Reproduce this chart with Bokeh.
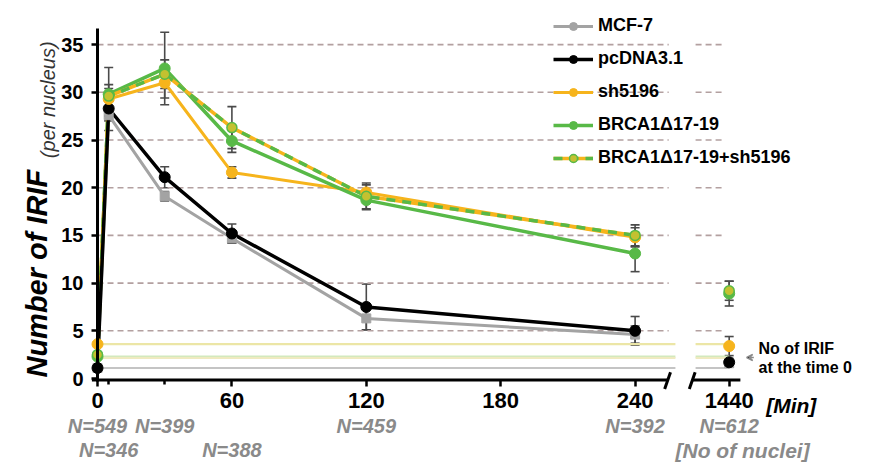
import math
from bokeh.plotting import figure
from bokeh.models import (ColumnDataSource, FixedTicker, Legend, LegendItem, Whisker,
                          TeeHead, Label, Arrow, VeeHead)
from bokeh.core.properties import value
from bokeh.embed import file_html
from bokeh.resources import INLINE

# ---------------- data ----------------
times = [0, 5, 30, 60, 120, 240, 1440]
n_nuclei = ["N=549", "N=346", "N=399", "N=388", "N=459", "N=392", "N=612"]
n_row = [1, 2, 1, 2, 1, 1, 1]

mcf7 = [1.1, 27.6, 19.1, 14.7, 6.3, 4.6, 1.6]
mcf7_err = [0, 0.6, 0.5, 0.5, 1.2, 0.9, 0]
pcdna = [1.1, 28.3, 21.1, 15.2, 7.5, 5.0, 1.7]
pcdna_err = [0, 0.8, 1.1, 1.0, 2.4, 1.5, 0.4]
sh5196 = [3.6, 29.3, 31.0, 21.6, 19.5, 14.8, 3.4]
sh5196_err = [0, 3.3, 1.6, 0.6, 0.8, 1.0, 1.0]
brca = [2.3, 29.8, 32.5, 24.9, 18.7, 13.1, 8.9]
brca_err = [0, 0.6, 3.8, 1.2, 0.9, 1.9, 1.3]
combo = [2.5, 29.6, 31.9, 26.3, 19.1, 15.0, 9.2]
combo_err = [0, 1.2, 1.5, 2.2, 1.4, 1.1, 1.0]

series_names = ["MCF-7", "pcDNA3.1", "sh5196", "BRCA1\u039417-19", "BRCA1\u039417-19+sh5196"]
y_ticks = [0, 5, 10, 15, 20, 25, 30, 35]
x_major = [0, 60, 120, 180, 240, 1440]
x_minor = [5, 30]

# ---------------- layout constants ----------------
BREAK_POS = 282          # where 1440 min is drawn on the broken axis
SEG1 = (0, 255)          # grid extent, first axis segment
SEG2 = (267, 279)        # grid extent, second axis segment
AXIS_Y = -0.15
FONT = "Liberation Sans"

GRAY = "#a3a3a3"
BLACK = "#000000"
ORANGE = "#f6b41c"
GREEN = "#58b947"
OLIVE = "#c4c130"
ERR = "#4a4a4a"
NGRAY = "#8a8a8a"


def xpos(t):
    return t if t <= 240 else BREAK_POS


W, H = 868, 465
PX_X, PX_Y = 2.24, 9.54      # pixels per minute / per IRIF
X0_PX, Y0_PX = 97, 378       # pixel position of the origin
p = figure(width=W, height=H,
           x_range=(-X0_PX / PX_X, (W - X0_PX) / PX_X),
           y_range=(-(H - Y0_PX) / PX_Y, Y0_PX / PX_Y),
           output_backend="svg", toolbar_location=None,
           min_border_left=0, min_border_right=0, min_border_top=0, min_border_bottom=0)
p.title.visible = False
p.outline_line_color = None
p.grid.visible = False
p.background_fill_color = "white"

# axes placed inside the frame
p.xaxis.fixed_location = AXIS_Y
p.xaxis.ticker = FixedTicker(ticks=[xpos(t) for t in x_major], minor_ticks=x_minor)
p.xaxis.major_label_overrides = {xpos(t): str(t) for t in x_major}
p.xaxis.axis_line_color = None
p.xaxis.major_tick_out = 7
p.xaxis.major_tick_in = 0
p.xaxis.minor_tick_out = 5
p.xaxis.minor_tick_in = 0
p.xaxis.major_tick_line_width = 2.5
p.xaxis.minor_tick_line_width = 2.5
p.xaxis.major_label_standoff = 6
p.xaxis.major_label_text_font = FONT
p.xaxis.major_label_text_font_size = "22px"
p.xaxis.major_label_text_font_style = "bold"
p.xaxis.major_label_text_color = "black"

p.yaxis.fixed_location = 0
p.yaxis.bounds = (-0.3, 36.7)
p.yaxis.ticker = FixedTicker(ticks=y_ticks, minor_ticks=[])
p.yaxis.axis_line_width = 3
p.yaxis.axis_line_color = "black"
p.yaxis.major_tick_in = 0
p.yaxis.major_tick_out = 6
p.yaxis.major_tick_line_width = 2.5
p.yaxis.major_label_standoff = 8
p.yaxis.major_label_text_font = FONT
p.yaxis.major_label_text_font_size = "20px"
p.yaxis.major_label_text_font_style = "bold"
p.yaxis.major_label_text_color = "black"

# dashed grid lines, broken like the axis
gx0, gx1, gy = [], [], []
for yv in y_ticks[1:]:
    for seg in (SEG1, SEG2):
        gx0.append(seg[0]); gx1.append(seg[1]); gy.append(yv)
p.segment(x0=gx0, x1=gx1, y0=gy, y1=gy, line_color="#b3a0a0", line_width=1.6, line_dash="6 4")

# faint reference lines = values at time 0
ref_vals = [sh5196[0], brca[0], combo[0] - 0.35, pcdna[0]]
ref_cols = ["#ece6a6", "#d3e9bd", "#efeac0", "#c4c4c4"]
rx0, rx1, ry, rc = [], [], [], []
for v, c in zip(ref_vals, ref_cols):
    for seg in (SEG1, SEG2):
        rx0.append(seg[0]); rx1.append(seg[1] + 3); ry.append(v); rc.append(c)
p.segment(x0=rx0, x1=rx1, y0=ry, y1=ry, line_color=rc, line_width=2.2)

# broken x axis line with break marks
p.segment(x0=[-2.5, 265.5], x1=[254.5, 287], y0=[AXIS_Y, AXIS_Y], y1=[AXIS_Y, AXIS_Y],
          line_color="black", line_width=3)
p.segment(x0=[253.2, 264.2], x1=[255.8, 266.8], y0=[-1.1, -1.1], y1=[0.65, 0.65],
          line_color="black", line_width=3)

# series
xs_line = [xpos(t) for t in times if t <= 240]
xs_all = [xpos(t) for t in times]
nl = len(xs_line)

r_gray_l = p.line(xs_line, mcf7[:nl], line_color=GRAY, line_width=3)
r_or_l = p.line(xs_line, sh5196[:nl], line_color=ORANGE, line_width=3)
r_gr_l = p.line(xs_line, brca[:nl], line_color=GREEN, line_width=3.5)
r_co_l1 = p.line(xs_line, combo[:nl], line_color=ORANGE, line_width=3.5)
r_co_l2 = p.line(xs_line, combo[:nl], line_color=GREEN, line_width=3.5, line_dash="9 7")
r_bk_l = p.line(xs_line, pcdna[:nl], line_color=BLACK, line_width=3.5)


def add_err(vals, errs):
    bx, up, lo = [], [], []
    for t, v, e in zip(times, vals, errs):
        if e > 0:
            bx.append(xpos(t)); up.append(v + e); lo.append(v - e)
    src = ColumnDataSource(dict(x=bx, upper=up, lower=lo))
    w = Whisker(source=src, base="x", upper="upper", lower="lower", dimension="height",
                line_color=ERR, line_width=1.6,
                upper_head=TeeHead(size=9, line_color=ERR, line_width=1.6),
                lower_head=TeeHead(size=9, line_color=ERR, line_width=1.6))
    p.add_layout(w)


for vals, errs in ((mcf7, mcf7_err), (pcdna, pcdna_err), (sh5196, sh5196_err),
                   (brca, brca_err), (combo, combo_err)):
    add_err(vals, errs)

r_gray_m = p.scatter(xs_all, mcf7, size=9, marker="square", fill_color=GRAY, line_color=GRAY)
r_bk_m = p.scatter(xs_all, pcdna, size=11, fill_color=BLACK, line_color=BLACK)
r_or_m = p.scatter(xs_all, sh5196, size=11, fill_color=ORANGE, line_color=ORANGE)
r_gr_m = p.scatter(xs_all, brca, size=11, fill_color=GREEN, line_color=GREEN)
r_co_m = p.scatter(xs_all, combo, size=10, fill_color=OLIVE, line_color=GREEN, line_width=1.5)

# legend-only glyph for MCF-7 (small round marker), placed off-range
r_gray_leg = p.scatter([-100], [-100], size=8, fill_color=GRAY, line_color=GRAY)

legend = Legend(items=[
    LegendItem(label=series_names[0], renderers=[r_gray_l, r_gray_leg]),
    LegendItem(label=series_names[1], renderers=[r_bk_l, r_bk_m]),
    LegendItem(label=series_names[2], renderers=[r_or_l, r_or_m]),
    LegendItem(label=series_names[3], renderers=[r_gr_l, r_gr_m]),
    LegendItem(label=series_names[4], renderers=[r_co_l1, r_co_l2, r_co_m]),
], location=(553, 297))
legend.glyph_width = 40
legend.glyph_height = 20
legend.label_height = 20
legend.spacing = 12
legend.padding = 0
legend.margin = 0
legend.label_standoff = 5
legend.border_line_color = None
legend.background_fill_alpha = 0
legend.label_text_font = FONT
legend.label_text_font_size = "18px"
legend.label_text_font_style = "bold"
legend.label_text_color = "black"
p.add_layout(legend)

# y axis title
p.add_layout(Label(x=-27.1, y=0.1, text="Number of IRIF", angle=math.pi / 2,
                   text_align="left", text_baseline="middle", text_font=FONT,
                   text_font_size="29px", text_font_style="bold italic", text_color="black"))
p.add_layout(Label(x=-22.0, y=23.1, text="(per nucleus)", angle=math.pi / 2,
                   text_align="left", text_baseline="middle", text_font=FONT,
                   text_font_size="20px", text_font_style="italic", text_color="#333333"))

# N (number of nuclei) labels under the axis
row_y = {1: -5.0, 2: -7.5}
nsrc = ColumnDataSource(dict(x=[xpos(t) for t in times], y=[row_y[r] for r in n_row], t=n_nuclei))
p.text(x="x", y="y", text="t", source=nsrc, text_align="center", text_baseline="middle",
       text_font=value(FONT), text_font_size="20px", text_font_style="bold italic",
       text_color=NGRAY)
p.text(x=[xpos(1440) + 6], y=[row_y[2]], text=["[No of nuclei]"], text_align="center",
       text_baseline="middle", text_font=value(FONT), text_font_size="21px",
       text_font_style="bold italic", text_color=NGRAY)
p.text(x=[xpos(1440) + 16.5], y=[-2.8], text=["[Min]"], text_align="left",
       text_baseline="middle", text_font=value(FONT), text_font_size="21px",
       text_font_style="bold italic", text_color="black")

# time-0 note
p.text(x=[xpos(1440) + 13.1, xpos(1440) + 13.1], y=[3.1, 1.15],
       text=["No of IRIF", "at the time 0"], text_align="left", text_baseline="middle",
       text_font=value(FONT), text_font_size="16px", text_font_style="bold", text_color="black")
p.add_layout(Arrow(end=VeeHead(size=6, line_color=NGRAY, line_width=1.5),
                   x_start=xpos(1440) + 11, y_start=2.2, x_end=xpos(1440) + 7.8, y_end=2.2,
                   line_color=NGRAY, line_width=1.5))

open("out.html", "w").write(file_html(p, INLINE))
